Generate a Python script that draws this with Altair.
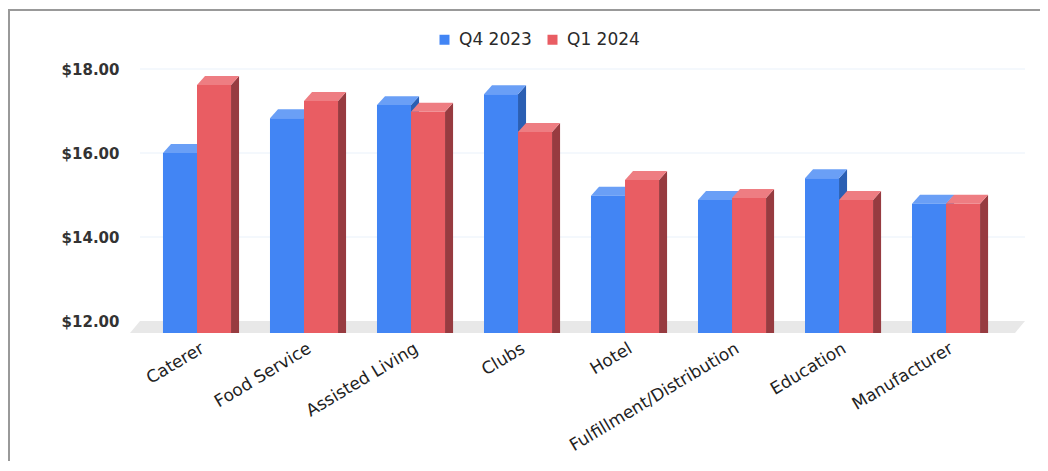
import altair as alt
import pandas as pd

categories = ["Caterer", "Food Service", "Assisted Living", "Clubs", "Hotel",
              "Fulfillment/Distribution", "Education", "Manufacturer"]
series = ["Q4 2023", "Q1 2024"]
q4_2023 = [16.00, 16.83, 17.14, 17.40, 14.98, 14.88, 15.40, 14.79]
q1_2024 = [17.62, 17.24, 16.98, 16.50, 15.36, 14.93, 14.88, 14.79]
y_ticks = [12, 14, 16, 18]

front_colors = ["#4285f4", "#e95d63"]
top_colors = ["#6a9ff6", "#ee7d82"]
side_colors = ["#2b5fb3", "#973b40"]

# geometry (data units)
BASE = 12.0
FLOOR = 12.0 - 12 / 42.0       # front edge of floor
BAR_W = 0.318
DX, DY = 0.075, 0.214           # bar depth offset
FDX = 0.0935                    # floor depth offset
XMIN, XMAX = -0.6262, 7.738
YMAX = 18.5

fronts, faces = [], []
for s_i, (s, vals) in enumerate(zip(series, [q4_2023, q1_2024])):
    for i, v in enumerate(vals):
        xl = i - BAR_W if s_i == 0 else i
        xr = xl + BAR_W
        fronts.append({"series": s, "x1": xl, "x2": xr, "v": v, "floor": FLOOR})
        key = f"{s}-{i}"
        faces.append({"key": key + "-side", "s": s_i, "face": "side", "x": xr, "lo": FLOOR, "up": v})
        faces.append({"key": key + "-side", "s": s_i, "face": "side", "x": xr + DX, "lo": FLOOR, "up": v + DY})
        faces.append({"key": key + "-top", "s": s_i, "face": "top", "x": xl, "lo": v, "up": v})
        faces.append({"key": key + "-top", "s": s_i, "face": "top", "x": xl + DX, "lo": v, "up": v + DY})
        faces.append({"key": key + "-top", "s": s_i, "face": "top", "x": xr, "lo": v, "up": v + DY})
        faces.append({"key": key + "-top", "s": s_i, "face": "top", "x": xr + DX, "lo": v + DY, "up": v + DY})

fronts_df = pd.DataFrame(fronts)
faces_df = pd.DataFrame(faces)

floor_df = pd.DataFrame([
    {"x": XMIN, "lo": FLOOR, "up": FLOOR},
    {"x": XMIN + FDX, "lo": FLOOR, "up": BASE},
    {"x": XMAX - FDX, "lo": FLOOR, "up": BASE},
    {"x": XMAX, "lo": BASE, "up": BASE},
])
grid_df = pd.DataFrame({"y": [t for t in y_ticks if t > BASE], "x1": XMIN + FDX, "x2": XMAX})

xs = alt.Scale(domain=[XMIN, XMAX], nice=False, zero=False)
ys = alt.Scale(domain=[FLOOR, YMAX], nice=False, zero=False)

label_expr = "[" + ",".join("'" + c + "'" for c in categories) + "][datum.value]"

x_axis = alt.Axis(values=list(range(len(categories))), labelExpr=label_expr,
                  labelAngle=-31, labelAlign="right", labelBaseline="top",
                  labelPadding=7, labelOffset=1, labelFontSize=17,
                  labelColor="#222", labelFont="DejaVu Sans", labelLimit=400,
                  ticks=False, domain=False, grid=False, labelOverlap=False)
y_axis = alt.Axis(values=y_ticks, format="$.2f", labelFontSize=15,
                  labelFontWeight="bold", labelColor="#333",
                  labelFont="DejaVu Sans", labelPadding=11,
                  ticks=False, domain=False, grid=False)

grid = alt.Chart(grid_df).mark_rule(color="#e9f1fa", strokeWidth=1).encode(
    x=alt.X("x1:Q", scale=xs, title=None, axis=x_axis), x2="x2:Q",
    y=alt.Y("y:Q", scale=ys, title=None, axis=y_axis))

floor = alt.Chart(floor_df).mark_area(color="#e8e8e8", orient="vertical").encode(
    x=alt.X("x:Q", scale=xs, title=None, axis=x_axis),
    y=alt.Y("up:Q", scale=ys, title=None, axis=y_axis, stack=False), y2="lo:Q")


def face_layer(s_i, face, color):
    return alt.Chart(faces_df).transform_filter(
        (alt.datum.s == s_i) & (alt.datum.face == face)
    ).mark_area(color=color, orient="vertical").encode(
        x=alt.X("x:Q", scale=xs, title=None, axis=x_axis),
        y=alt.Y("up:Q", scale=ys, title=None, axis=y_axis, stack=False), y2="lo:Q",
        detail="key:N")


front = alt.Chart(fronts_df).mark_rect().encode(
    x=alt.X("x1:Q", scale=xs, title=None, axis=x_axis),
    x2="x2:Q",
    y=alt.Y("v:Q", scale=ys, title=None, axis=y_axis),
    y2="floor:Q",
    color=alt.Color("series:N", title=None,
                    scale=alt.Scale(domain=series, range=front_colors),
                    legend=alt.Legend(orient="none", legendX=306, legendY=-17,
                                      direction="horizontal", symbolType="square",
                                      symbolSize=100, symbolStrokeWidth=0,
                                      labelFontSize=17,
                                      labelColor="#2a2a2a", labelFont="DejaVu Sans",
                                      labelOffset=6, columnPadding=12, padding=0)),
)

border_left = alt.Chart(fronts_df).mark_rule(color="#999999", strokeWidth=2).encode(
    x=alt.value(-121), y=alt.value(-38), y2=alt.value(500))
border_top = alt.Chart(fronts_df).mark_rule(color="#999999", strokeWidth=2).encode(
    x=alt.value(-122), x2=alt.value(1000), y=alt.value(-38))

chart = alt.layer(
    grid, floor,
    face_layer(0, "side", side_colors[0]),
    face_layer(0, "top", top_colors[0]),
    front,
    face_layer(1, "side", side_colors[1]),
    face_layer(1, "top", top_colors[1]),
    border_left, border_top,
).properties(
    width=895, height=285,
    padding={"left": 122, "top": 40, "right": 15, "bottom": 128},
    autosize=alt.AutoSizeParams(type="none"),
    background="white",
).configure(font="DejaVu Sans").configure_view(strokeWidth=0, stroke="transparent")

chart.save("out.html", embed_options={"renderer": "svg", "actions": False})
